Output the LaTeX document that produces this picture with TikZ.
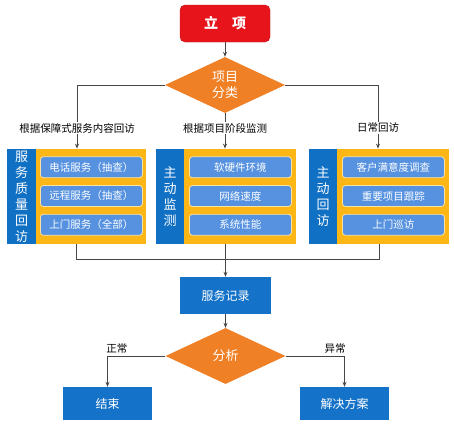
\documentclass[tikz,border=0pt]{standalone}
\usepackage{fontspec}
\newfontfamily\cjk{Noto Sans CJK SC}
\usetikzlibrary{shapes.geometric, arrows.meta, positioning, fit}
\definecolor{startred}{RGB}{232,20,28}
\definecolor{decorange}{RGB}{240,128,38}
\definecolor{sideblue}{RGB}{16,112,196}
\definecolor{panelgold}{RGB}{252,182,22}
\definecolor{itemblue}{RGB}{86,146,224}
\definecolor{itemedge}{RGB}{250,226,165}
\definecolor{procblue}{RGB}{20,114,200}
\definecolor{arrowgray}{RGB}{70,70,70}
\tikzset{
  base/.style={inner sep=0pt, text=white, font=\cjk\fontsize{11}{13}\selectfont},
  startblock/.style={base, rectangle, rounded corners=5pt, fill=startred,
    draw=startred!85!black, minimum width=90pt, minimum height=37pt,
    font=\cjk\bfseries\fontsize{14}{16}\selectfont},
  decision/.style={base, diamond, fill=decorange, minimum width=120pt,
    minimum height=56pt, align=center, font=\cjk\fontsize{13}{15.5}\selectfont},
  sidebar/.style={base, rectangle, fill=sideblue, minimum width=29pt,
    minimum height=95pt, align=center, font=\cjk\fontsize{13}{16}\selectfont},
  panel/.style={rectangle, fill=panelgold, minimum height=95pt, inner sep=0pt},
  itemblock/.style={base, rectangle, rounded corners=3pt, fill=itemblue,
    draw=itemedge, line width=0.8pt, minimum width=102pt, minimum height=21pt,
    font=\cjk\fontsize{10.5}{12}\selectfont},
  procblock/.style={base, rectangle, fill=procblue, minimum width=90pt,
    minimum height=36pt, font=\cjk\fontsize{12}{14}\selectfont},
  note/.style={font=\cjk\fontsize{10.5}{12}\selectfont, text=black, inner sep=1pt},
  line/.style={line width=1pt, color=arrowgray},
  arrow/.style={-{Stealth[length=5pt, width=4pt]}, line width=1pt, color=arrowgray},
}
\begin{document}
\begin{tikzpicture}[x=1pt, y=-1pt]
  \useasboundingbox (0,0) rectangle (454,426);

  \node[startblock] (start) at (225,23.5) {立\quad 项};
  \node[decision] (classify) at (225,85) {项目\\分类};

  % three branches
  \node[note] (lbl1) at (77,128) {根据保障式服务内容回访};
  \node[note] (lbl2) at (225,128) {根据项目阶段监测};
  \node[note] (lbl3) at (378,128) {日常回访};

  \node[sidebar] (side1) at (21.5,196.5) {服\\务\\质\\量\\回\\访};
  \node[panel, minimum width=110pt, right=0pt of side1] (panel1) {};
  \node[itemblock, below=7.5pt of panel1.north] (phone) {电话服务（抽查）};
  \node[itemblock, below=7pt of phone] (remote) {远程服务（抽查）};
  \node[itemblock, below=7pt of remote] (visit) {上门服务（全部）};
  \node[fit=(side1)(panel1), inner sep=0pt] (grp1) {};

  \node[sidebar, minimum width=28pt] (side2) at (170,196.5) {主\\动\\监\\测};
  \node[panel, minimum width=112pt, right=0pt of side2] (panel2) {};
  \node[itemblock, below=7.5pt of panel2.north] (hw) {软硬件环境};
  \node[itemblock, below=7pt of hw] (net) {网络速度};
  \node[itemblock, below=7pt of net] (perf) {系统性能};
  \node[fit=(side2)(panel2), inner sep=0pt] (grp2) {};

  \node[sidebar, minimum width=28pt] (side3) at (323,196.5) {主\\动\\回\\访};
  \node[panel, minimum width=112pt, right=0pt of side3] (panel3) {};
  \node[itemblock, below=7.5pt of panel3.north] (survey) {客户满意度调查};
  \node[itemblock, below=7pt of survey] (track) {重要项目跟踪};
  \node[itemblock, below=7pt of track] (patrol) {上门巡访};
  \node[fit=(side3)(panel3), inner sep=0pt] (grp3) {};

  \node[procblock, minimum width=91pt, minimum height=37pt] (record) at (225.5,295.5) {服务记录};
  \node[decision] (analyse) at (225.5,356) {分析};
  \node[procblock, minimum width=89pt, minimum height=33pt] (finish) at (107.5,403.5) {结束};
  \node[procblock, minimum width=89pt, minimum height=33pt] (solution) at (344.5,403.5) {解决方案};

  \coordinate (merge) at (225.5,259);

  \draw[arrow] (start) -- (classify);
  \draw[line] (classify.west) -| (lbl1.north);
  \draw[arrow] (lbl1.south) -- (lbl1.south |- grp1.north);
  \draw[line] (classify.south) -- (lbl2.north);
  \draw[arrow] (lbl2.south) -- (lbl2.south |- grp2.north);
  \draw[line] (classify.east) -| (lbl3.north);
  \draw[arrow] (lbl3.south) -- (lbl3.south |- grp3.north);

  \draw[line] (grp1.south) |- (grp3.south |- merge) -- (grp3.south);
  \draw[arrow] (record.north |- grp2.south) -- (record.north);
  \draw[arrow] (record) -- (analyse);
  \draw[arrow] (analyse.west) -| node[note, pos=0.42, above=1pt] {正常} (finish.north);
  \draw[arrow] (analyse.east) -| node[note, pos=0.42, above=1pt] {异常} (solution.north);
\end{tikzpicture}
\end{document}
